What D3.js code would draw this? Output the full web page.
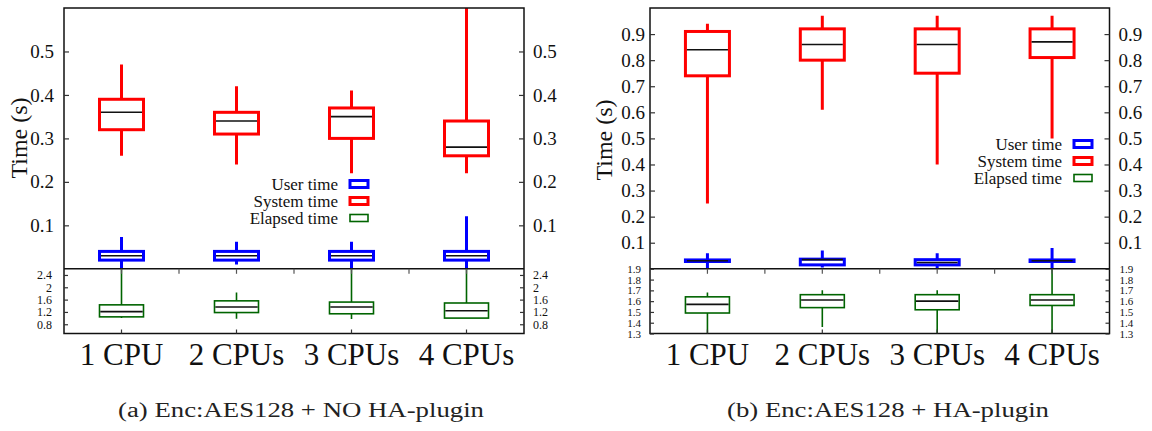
<!DOCTYPE html>
<html><head><meta charset="utf-8">
<script src="https://cdn.jsdelivr.net/npm/d3@7"></script>
<style>body{margin:0;background:#fff}svg{display:block}
svg text{font-family:"Liberation Serif","DejaVu Serif",Times,serif}</style>
</head><body>
<svg id="c" width="1152" height="431"></svg>
<script>
const categories = ["1 CPU", "2 CPUs", "3 CPUs", "4 CPUs"];
const seriesNames = ["User time", "System time", "Elapsed time"];
// each entry: [min, q1, median, q3, max] in seconds
const aUser    = [[0.0, 0.02, 0.03, 0.04, 0.073], [0.01, 0.02, 0.03, 0.04, 0.062], [0.0, 0.02, 0.03, 0.04, 0.062], [0.0, 0.02, 0.03, 0.04, 0.121]];
const aSystem  = [[0.26, 0.32, 0.36, 0.39, 0.47], [0.24, 0.31, 0.34, 0.36, 0.42], [0.22, 0.30, 0.35, 0.37, 0.41], [0.22, 0.26, 0.28, 0.34, 0.65]];
const aElapsed = [[1.0, 1.04, 1.21, 1.43, 2.8], [0.98, 1.18, 1.36, 1.56, 1.83], [0.97, 1.14, 1.36, 1.52, 2.8], [1.0, 1.0, 1.24, 1.49, 2.8]];
const bUser    = [[0.0, 0.028, 0.031, 0.034, 0.06], [0.005, 0.015, 0.035, 0.037, 0.07], [0.0, 0.015, 0.024, 0.035, 0.06], [0.0, 0.028, 0.031, 0.034, 0.08]];
const bSystem  = [[0.25, 0.74, 0.84, 0.91, 0.94], [0.61, 0.80, 0.86, 0.92, 0.97], [0.40, 0.75, 0.86, 0.92, 0.97], [0.50, 0.81, 0.87, 0.92, 0.97]];
const bElapsed = [[1.2, 1.49, 1.57, 1.64, 1.68], [1.36, 1.54, 1.61, 1.66, 1.70], [1.2, 1.52, 1.60, 1.66, 1.70], [1.2, 1.56, 1.61, 1.66, 2.0]];
const aTopTicks = [0.1, 0.2, 0.3, 0.4, 0.5];
const aBottomTicks = [0.8, 1.2, 1.6, 2, 2.4];
const bTopTicks = [0.1, 0.2, 0.3, 0.4, 0.5, 0.6, 0.7, 0.8, 0.9];
const bBottomTicks = [1.3, 1.4, 1.5, 1.6, 1.7, 1.8, 1.9];
const captions = ["(a) Enc:AES128 + NO HA-plugin", "(b) Enc:AES128 + HA-plugin"];
const yLabel = "Time (s)";

const colors = {user: "#0000ff", system: "#ff0000", elapsed: "#006400"};
const svg = d3.select("#c");

function panel(cfg, id) {
  const top = 8, mid = 268.8, bottom = 333.5;
  const x = d3.scaleBand().domain(categories).range([cfg.left, cfg.right]).padding(0);
  const yTop = d3.scaleLinear().domain(cfg.topDomain).range([mid, top]);
  const yBot = d3.scaleLinear().domain(cfg.botDomain).range([bottom, mid]);
  const g = svg.append("g");

  const defs = svg.append("defs");
  defs.append("clipPath").attr("id", "ct" + id).append("rect")
    .attr("x", cfg.left).attr("y", top).attr("width", cfg.right - cfg.left).attr("height", mid - top);
  defs.append("clipPath").attr("id", "cb" + id).append("rect")
    .attr("x", cfg.left).attr("y", mid).attr("width", cfg.right - cfg.left).attr("height", bottom - mid);

  const half = 22;
  function boxes(sel, data, y, color, sw) {
    data.forEach((d, i) => {
      const cx = x(categories[i]) + x.bandwidth() / 2;
      sel.append("line").attr("x1", cx).attr("x2", cx).attr("y1", y(d[0])).attr("y2", y(d[4]))
        .attr("stroke", color).attr("stroke-width", sw);
      sel.append("rect").attr("x", cx - half).attr("width", half * 2)
        .attr("y", y(d[3])).attr("height", Math.max(0, y(d[1]) - y(d[3])))
        .attr("fill", "#fff").attr("stroke", color).attr("stroke-width", sw);
      sel.append("line").attr("x1", cx - half + sw / 2).attr("x2", cx + half - sw / 2)
        .attr("y1", y(d[2])).attr("y2", y(d[2])).attr("stroke", "#111").attr("stroke-width", 1.6);
    });
  }
  const gt = g.append("g").attr("clip-path", `url(#ct${id})`);
  boxes(gt, cfg.system, yTop, colors.system, 3);
  boxes(gt, cfg.user, yTop, colors.user, 3);
  const gb = g.append("g").attr("clip-path", `url(#cb${id})`);
  boxes(gb, cfg.elapsed, yBot, colors.elapsed, 1.6);

  g.append("rect").attr("x", cfg.left).attr("y", top).attr("width", cfg.right - cfg.left).attr("height", bottom - top)
    .attr("fill", "none").attr("stroke", "#111").attr("stroke-width", 1.5);
  g.append("line").attr("x1", cfg.left).attr("x2", cfg.right).attr("y1", mid).attr("y2", mid)
    .attr("stroke", "#111").attr("stroke-width", 1.5);

  function styleAxis(a, size) {
    a.select(".domain").remove();
    a.attr("font-family", null);
    a.selectAll("line").attr("stroke", "#333").attr("stroke-width", 1.2);
    a.selectAll("text").style("font-size", size + "px").attr("fill", "#111");
  }
  const fmt = d3.format("~g");
  styleAxis(g.append("g").attr("transform", `translate(${cfg.left},0)`)
    .call(d3.axisLeft(yTop).tickValues(cfg.topTicks).tickSizeInner(-5).tickSizeOuter(0).tickPadding(cfg.padL).tickFormat(fmt)), cfg.tickFont);
  styleAxis(g.append("g").attr("transform", `translate(${cfg.right},0)`)
    .call(d3.axisRight(yTop).tickValues(cfg.topTicks).tickSizeInner(-5).tickSizeOuter(0).tickPadding(cfg.padR).tickFormat(fmt)), cfg.tickFont);
  styleAxis(g.append("g").attr("transform", `translate(${cfg.left},0)`)
    .call(d3.axisLeft(yBot).tickValues(cfg.botTicks).tickSizeInner(-4).tickSizeOuter(0).tickPadding(cfg.padL2).tickFormat(fmt)), cfg.smallFont);
  styleAxis(g.append("g").attr("transform", `translate(${cfg.right},0)`)
    .call(d3.axisRight(yBot).tickValues(cfg.botTicks).tickSizeInner(-4).tickSizeOuter(0).tickPadding(cfg.padR2).tickFormat(fmt)), cfg.smallFont);
  styleAxis(g.append("g").attr("transform", `translate(0,${bottom})`)
    .call(d3.axisBottom(x).tickSizeInner(-4).tickSizeOuter(0).tickPadding(9)), 31);
  const bounds = categories.slice(1).map(c => x(c));
  const centres = categories.map(c => x(c) + x.bandwidth() / 2);
  g.selectAll(null).data(bounds.concat(centres)).join("line")
    .attr("x1", d => d).attr("x2", d => d).attr("y1", mid).attr("y2", mid + 5)
    .attr("stroke", "#555").attr("stroke-width", 1.2);

  g.append("text").attr("transform", `translate(${cfg.ylabX},${cfg.ylabY}) rotate(-90)`)
    .attr("text-anchor", "middle").style("font-size", "24px").attr("fill", "#111").text(yLabel);

  const legColors = [colors.user, colors.system, colors.elapsed];
  const legW = [3, 3, 1.6];
  seriesNames.forEach((n, i) => {
    const yy = cfg.legY + i * 17;
    g.append("text").attr("x", cfg.legX).attr("y", yy).attr("dy", "0.33em").attr("text-anchor", "end")
      .style("font-size", "17px").attr("fill", "#111").text(n);
    g.append("rect").attr("x", cfg.legX + 12).attr("y", yy - 3.5).attr("width", 18).attr("height", 7)
      .attr("fill", "#fff").attr("stroke", legColors[i]).attr("stroke-width", legW[i]);
  });

  g.append("text").attr("x", cfg.capX).attr("y", 417).attr("text-anchor", "middle")
    .attr("textLength", cfg.capW).attr("lengthAdjust", "spacingAndGlyphs")
    .style("font-size", "20px").attr("fill", "#222").text(cfg.caption);
}

panel({left: 64, right: 524, topDomain: [0, 0.6], botDomain: [0.5, 2.6],
  user: aUser, system: aSystem, elapsed: aElapsed,
  topTicks: aTopTicks, botTicks: aBottomTicks, padL: 10, padR: 9, padL2: 12, padR2: 9,
  tickFont: 19, smallFont: 12, ylabX: 27, ylabY: 138, legX: 338, legY: 184,
  caption: captions[0], capX: 301, capW: 366}, "a");
panel({left: 650, right: 1109.5, topDomain: [0, 1], botDomain: [1.3, 1.9],
  user: bUser, system: bSystem, elapsed: bElapsed,
  topTicks: bTopTicks, botTicks: bBottomTicks, padL: 5, padR: 9, padL2: 9, padR2: 10,
  tickFont: 19, smallFont: 11, ylabX: 612, ylabY: 140, legX: 1062, legY: 144,
  caption: captions[1], capX: 888, capW: 322}, "b");
</script>
</body></html>
